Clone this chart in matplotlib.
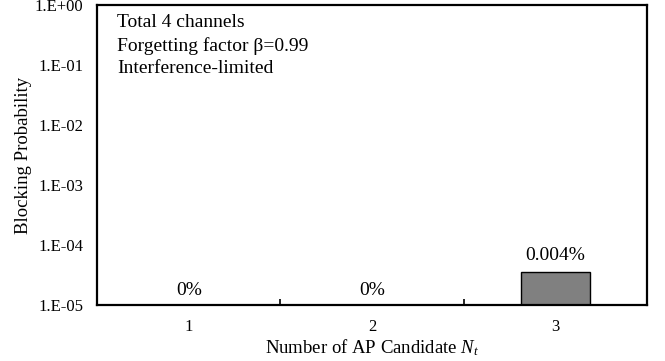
from decimal import Decimal, ROUND_HALF_UP

import matplotlib
matplotlib.use("Agg")
import matplotlib.pyplot as plt
from matplotlib.ticker import FixedLocator, NullFormatter

# Data
categories = ["1", "2", "3"]
blocking_prob = [0.0, 0.0, 3.5e-5]
y_ticks = [1e-5, 1e-4, 1e-3, 1e-2, 1e-1, 1e0]
y_tick_labels = ["1.E-05", "1.E-04", "1.E-03", "1.E-02", "1.E-01", "1.E+00"]
info_lines = ["Total 4 channels", "Forgetting factor β=0.99", "Interference-limited"]

plt.rcParams["font.family"] = ["Liberation Serif", "DejaVu Serif"]
plt.rcParams["mathtext.fontset"] = "custom"
plt.rcParams["mathtext.rm"] = "Liberation Serif"
plt.rcParams["mathtext.it"] = "Liberation Serif:italic"


def pct_label(v):
    if v == 0:
        return "0%"
    d = (Decimal(repr(v)) * 100).quantize(Decimal("0.001"), rounding=ROUND_HALF_UP)
    return f"{d}%"


fig = plt.figure(figsize=(6.65, 3.61), dpi=100)
ax = fig.add_axes([0.1459, 0.1565, 0.973 - 0.1459, 0.9848 - 0.1565])

x = list(range(len(categories)))
ymin, ymax = y_ticks[0], y_ticks[-1]
ax.set_yscale("log")
ax.set_ylim(ymin, ymax)
ax.set_xlim(-0.5, len(categories) - 0.5)

bar_vals = [v if v > 0 else float("nan") for v in blocking_prob]
ax.bar(x, bar_vals, width=0.376, bottom=0, color="#808080",
       edgecolor="black", linewidth=1.0, zorder=2)

# value labels (offsets given in pixels)
for xi, v in zip(x, blocking_prob):
    anchor = v if v > 0 else ymin
    off = 12 if v > 0 else 9.5
    ax.annotate(pct_label(v), (xi, anchor), xytext=(0, off * 0.72),
                textcoords="offset points", ha="center", va="baseline",
                fontsize=14)

# y axis
ax.yaxis.set_major_locator(FixedLocator(y_ticks))
ax.set_yticklabels(y_tick_labels)
ax.yaxis.set_minor_formatter(NullFormatter())
ax.tick_params(axis="y", which="both", length=0, pad=10, labelsize=12)

# x axis: labels at category centres, tick marks at category boundaries
ax.set_xticks(x)
ax.set_xticklabels(categories)
ax.set_xticks([i + 0.5 for i in x[:-1]], minor=True)
ax.tick_params(axis="x", which="major", length=0, pad=10.5, labelsize=12)
ax.tick_params(axis="x", which="minor", length=4, width=1.2,
               direction="in", color="black")

for s in ax.spines.values():
    s.set_linewidth(1.6)
    s.set_color("black")

ax.set_ylabel("Blocking Probability", fontsize=13.5)
ax.yaxis.set_label_coords(-0.118, 0.5)
ax.set_xlabel(r"Number of AP Candidate $N_t$", fontsize=13.5, va="top")
ax.xaxis.set_label_coords(0.5, -0.11)

ax.text(0.036, 0.97, "\n".join(info_lines), transform=ax.transAxes,
        ha="left", va="top", fontsize=14, linespacing=1.38)

fig.savefig("out.png", dpi=100)
